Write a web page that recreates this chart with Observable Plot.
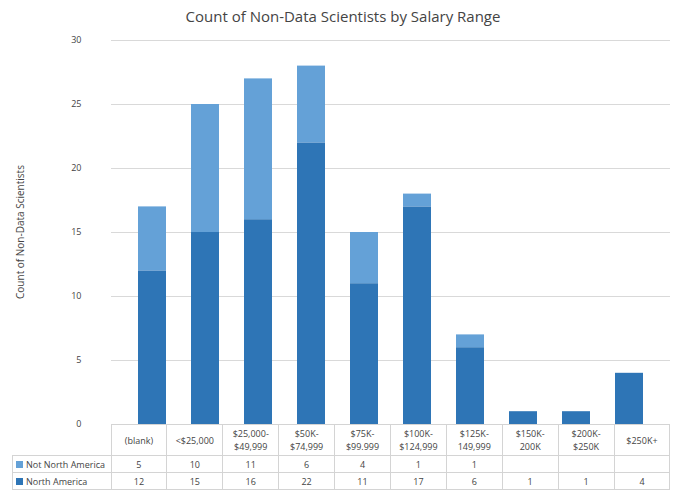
<!DOCTYPE html>
<html><head><meta charset="utf-8">
<script src="https://cdn.jsdelivr.net/npm/d3@7"></script>
<script src="https://cdn.jsdelivr.net/npm/@observablehq/plot@0.6"></script>
<style>
body{margin:0;background:#fff;font-family:"Open Sans",sans-serif;}
#wrap{position:relative;width:686px;height:496px;}
#title{position:absolute;top:6px;left:0;width:686px;text-align:center;font-size:15px;color:#444;}
#ylab{position:absolute;left:-80px;top:225px;width:200px;text-align:center;transform:rotate(-90deg);font-size:10px;color:#444;}
table{position:absolute;border-collapse:collapse;font-size:9px;color:#444;}
td{border:1px solid #d4d4d4;text-align:center;padding:0;}
.sw{display:inline-block;width:7px;height:7px;margin-right:3px;}
</style></head>
<body><div id="wrap"><div id="chart"></div><div id="title">Count of Non-Data Scientists by Salary Range</div><div id="ylab">Count of Non-Data Scientists</div></div>
<script>
const categories = ["(blank)","<$25,000","$25,000-\n$49,999","$50K-\n$74,999","$75K-\n$99.999","$100K-\n$124,999","$125K-\n149,999","$150K-\n200K","$200K-\n$250K","$250K+"];
const northAmerica = [12,15,16,22,11,17,6,1,1,4];
const notNorthAmerica = [5,10,11,6,4,1,1,null,null,null];
const series = ["North America","Not North America"];
const colors = ["#2e75b6","#64a1d7"];

const rows = [];
categories.forEach((c,i)=>{
  rows.push({cat:c, s:"North America", v:northAmerica[i]});
  rows.push({cat:c, s:"Not North America", v:notNorthAmerica[i] || 0});
});

const pLeft = 111, pRight = 670, pTop = 40, pBottom = 424;
const chart = Plot.plot({
  width:686, height:496,
  marginLeft:pLeft, marginRight:686-pRight, marginTop:pTop, marginBottom:496-pBottom,
  style:{fontFamily:"Open Sans", fontSize:"9px", color:"#444"},
  x:{domain:categories, padding:0.48, axis:null},
  y:{domain:[0,30], ticks:[0,5,10,15,20,25,30], label:null, tickSize:0, tickPadding:30},
  color:{domain:series, range:colors},
  marks:[
    Plot.gridY([5,10,15,20,25,30],{stroke:"#d9d9d9", strokeOpacity:1}),
    Plot.barY(rows,{x:"cat", y:"v", fill:"s", order:series}),
    Plot.ruleY([0],{stroke:"#d9d9d9"})
  ]
});
document.getElementById("chart").append(chart);

// data table beneath the plot
const colW = (pRight-pLeft)/categories.length;
const t = document.createElement("table");
t.style.left = "12px"; t.style.top = pBottom+"px";
let h = `<tr style="height:31px"><td style="border:none;border-right:1px solid #d4d4d4;width:${pLeft-13}px"></td>`;
categories.forEach(c=>h+=`<td style="width:${colW-1}px">${c.replace("\n","<br>")}</td>`);
h+="</tr>";
[["Not North America",notNorthAmerica,colors[1]],["North America",northAmerica,colors[0]]].forEach(([n,vals,col])=>{
  h+=`<tr style="height:17px"><td style="text-align:left;padding-left:3px"><span class="sw" style="background:${col}"></span>${n}</td>`;
  vals.forEach(v=>h+=`<td>${v==null?"":v}</td>`);
  h+="</tr>";
});
t.innerHTML = h;
document.getElementById("wrap").append(t);
</script></body></html>
